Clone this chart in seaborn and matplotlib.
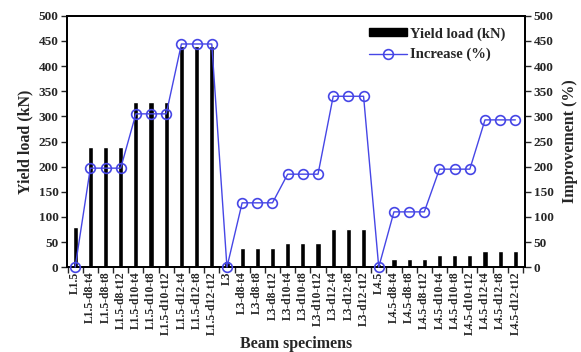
import matplotlib
matplotlib.use("Agg")
import matplotlib.pyplot as plt
import seaborn as sns
import pandas as pd
import numpy as np
from matplotlib.ticker import FixedLocator
from matplotlib.patches import Patch
from matplotlib.lines import Line2D

specimens = [
    "L1.5", "L1.5-d8-t4", "L1.5-d8-t8", "L1.5-d8-t12",
    "L1.5-d10-t4", "L1.5-d10-t8", "L1.5-d10-t12",
    "L1.5-d12-t4", "L1.5-d12-t8", "L1.5-d12-t12",
    "L3", "L3-d8-t4", "L3-d8-t8", "L3-d8-t12",
    "L3-d10-t4", "L3-d10-t8", "L3-d10-t12",
    "L3-d12-t4", "L3-d12-t8", "L3-d12-t12",
    "L4.5", "L4.5-d8-t4", "L4.5-d8-t8", "L4.5-d8-t12",
    "L4.5-d10-t4", "L4.5-d10-t8", "L4.5-d10-t12",
    "L4.5-d12-t4", "L4.5-d12-t8", "L4.5-d12-t12",
]
yield_load = [
    80, 240, 240, 240, 328, 328, 328, 440, 440, 440,
    13, 38, 38, 38, 48, 48, 48, 76, 76, 76,
    6, 17, 17, 17, 25, 25, 25, 33, 33, 33,
]
increase = [
    0, 197, 197, 197, 305, 305, 305, 444, 444, 444,
    0, 128, 128, 128, 185, 185, 185, 340, 340, 340,
    0, 110, 110, 110, 195, 195, 195, 293, 293, 293,
]

df = pd.DataFrame({"spec": specimens, "load": yield_load, "inc": increase,
                   "pos": np.arange(len(specimens))})

sns.set_style("ticks")
plt.rcParams["font.family"] = ["Liberation Serif", "DejaVu Serif"]
plt.rcParams["font.weight"] = "bold"

fig = plt.figure(figsize=(5.81, 3.52), dpi=100)
ax = fig.add_axes([0.115, 0.241, 0.789, 0.714])

sns.barplot(data=df, x="spec", y="load", color="black", width=0.34,
            ax=ax, saturation=1, legend=False)
ax2 = ax.twinx()
line_color = "#4646e6"
sns.lineplot(data=df, x="pos", y="inc", ax=ax2, color=line_color, lw=1.0,
             marker="o", markersize=7, markerfacecolor="none",
             markeredgecolor=line_color, markeredgewidth=1.2,
             legend=False, clip_on=False, zorder=5)

ax.set_xlim(-0.55, 29.65)
ax.set_ylim(0, 500)
ax2.set_ylim(0, 500)
ticks = np.arange(0, 501, 50)
ax.set_yticks(ticks)
ax2.set_yticks(ticks)
ax.set_yticklabels([str(t) for t in ticks], fontsize=9.5, fontweight="bold")
ax2.set_yticklabels([str(t) for t in ticks], fontsize=9.5, fontweight="bold")

ax.set_xticks(np.arange(len(specimens)))
ax.set_xticklabels(specimens, rotation=90, fontsize=8.4, fontweight="bold")
ax.tick_params(axis="x", which="major", length=0, pad=3)
ax.xaxis.set_minor_locator(FixedLocator(np.arange(-0.5, len(specimens), 1)))
ax.tick_params(axis="x", which="minor", length=4, width=1, direction="out")
ax.tick_params(axis="y", length=4, width=1, direction="out", pad=2)
ax2.tick_params(axis="y", length=4, width=1, direction="out", pad=2)

for a in (ax, ax2):
    for s in a.spines.values():
        s.set_linewidth(1.3)
        s.set_color("black")

ax.set_xlabel("Beam specimens", fontsize=11.5, fontweight="bold", labelpad=1)
ax.set_ylabel("Yield load (kN)", fontsize=11.5, fontweight="bold", labelpad=4)
ax2.set_ylabel("Improvement (%)", fontsize=11.5, fontweight="bold", labelpad=6)

handles = [
    Patch(facecolor="black", edgecolor="black", label="Yield load (kN)"),
    Line2D([0], [0], color=line_color, lw=1.0, marker="o", markersize=7,
           markerfacecolor="none", markeredgecolor=line_color,
           markeredgewidth=1.2, label="Increase (%)"),
]
ax2.legend(handles=handles, loc="upper right", frameon=False,
           prop={"weight": "bold", "size": 10.5},
           handlelength=2.6, handleheight=0.5, handletextpad=0.2,
           borderaxespad=0.2, labelspacing=0.5,
           bbox_to_anchor=(0.975, 0.99))

fig.savefig("out.png", dpi=100)
